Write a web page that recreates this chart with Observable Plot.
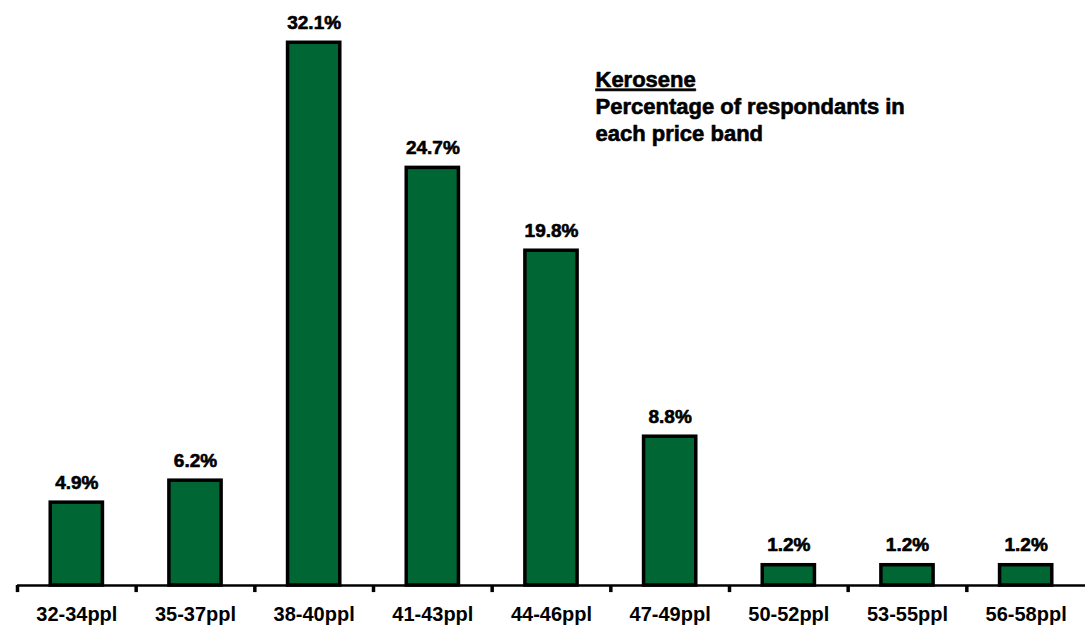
<!DOCTYPE html>
<html><head><meta charset="utf-8">
<script src="https://cdn.jsdelivr.net/npm/d3@7"></script>
<script src="https://cdn.jsdelivr.net/npm/@observablehq/plot@0.6"></script>
<style>body{margin:0;background:#fff}</style>
</head><body><div id="chart"></div>
<script>
const bands = ["32-34ppl","35-37ppl","38-40ppl","41-43ppl","44-46ppl","47-49ppl","50-52ppl","53-55ppl","56-58ppl"];
const shares = [4.9, 6.2, 32.1, 24.7, 19.8, 8.8, 1.2, 1.2, 1.2];
const shareLabels = ["4.9%","6.2%","32.1%","24.7%","19.8%","8.8%","1.2%","1.2%","1.2%"];
const noteLines = ["Kerosene","Percentage of respondants in","each price band"];

const data = bands.map((b,i)=>({band:b, share:shares[i], label:shareLabels[i]}));
const font = "Liberation Sans, Arial, sans-serif";
const W = 1085, H = 628, ml = 17, mr = 0;
const step = (W - ml - mr) / bands.length;

const chart = Plot.plot({
  width: W, height: H,
  marginLeft: ml, marginRight: mr, marginTop: 0, marginBottom: 43,
  style: {fontFamily: font, background: "#fff"},
  x: {domain: bands, paddingInner: 0.56, paddingOuter: 0.28, round: false, label: null},
  y: {domain: [0, 34.6], axis: null},
  marks: [
    Plot.barY(data, {x:"band", y:"share", fill:"#006633", stroke:"#000", strokeWidth:3.5}),
    Plot.text(data, {x:"band", y:"share", text:"label", dy:-20, fontWeight:"bold", fontSize:19, fill:"#000", stroke:"#000", strokeWidth:0.6}),
    Plot.ruleY([0], {stroke:"#000", strokeWidth:2.5}),
    Plot.ruleX(bands, {x:d=>d, dx:-step/2, y1:0, y2:-0.42, stroke:"#000", strokeWidth:3.5}),
    Plot.axisX({tickSize:0, tickPadding:21, fontSize:20, fontWeight:"bold", fill:"#000", stroke:"#000", strokeWidth:0.6}),
    Plot.text([noteLines.join("\n")], {frameAnchor:"top-left", dx:578, dy:67, text:d=>d, textAnchor:"start", lineAnchor:"top", lineHeight:1.23, fontSize:22, fontWeight:"bold", fill:"#000", stroke:"#000", strokeWidth:0.6})
  ]
});
document.getElementById("chart").appendChild(chart);
// underline the first annotation line
d3.select(chart).selectAll("tspan").filter(function(){return this.textContent === noteLines[0];}).style("text-decoration","underline");
</script>
</body></html>
